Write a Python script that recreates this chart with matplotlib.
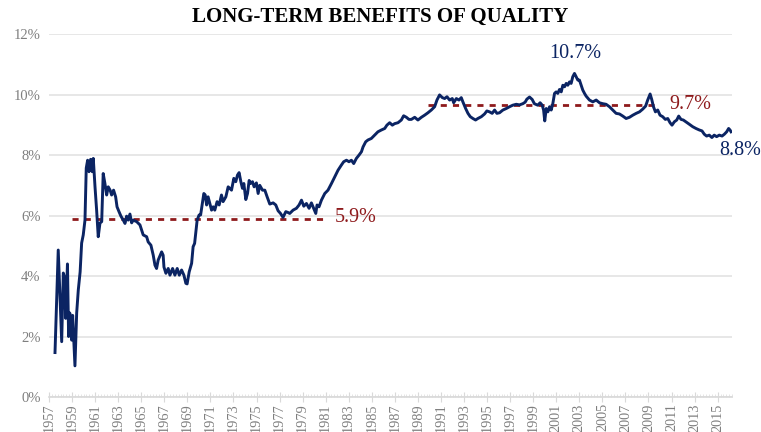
import numpy as np
import matplotlib
matplotlib.use("Agg")
import matplotlib.pyplot as plt
from matplotlib.ticker import FixedLocator, MultipleLocator, PercentFormatter

# return series (%)
years = [1957.52, 1957.80, 1958.10, 1958.24, 1958.32, 1958.45, 1958.60, 1958.70, 1958.80, 1958.97,
         1959.05, 1959.25, 1959.40, 1959.54, 1959.70, 1959.83, 1959.97, 1960.12, 1960.23, 1960.35,
         1960.47, 1960.61, 1960.75, 1960.84, 1960.99, 1961.13, 1961.27, 1961.42, 1961.57, 1961.70,
         1961.85, 1962.00, 1962.14, 1962.30, 1962.43, 1962.60, 1962.78, 1962.90, 1963.07, 1963.24,
         1963.44, 1963.59, 1963.73, 1963.87, 1964.02, 1964.17, 1964.30, 1964.60, 1964.89, 1965.17,
         1965.47, 1965.60, 1965.84, 1966.04, 1966.19, 1966.33, 1966.47, 1966.77, 1966.90, 1966.97,
         1967.14, 1967.34, 1967.49, 1967.72, 1967.92, 1968.12, 1968.30, 1968.50, 1968.70, 1968.87,
         1968.98, 1969.16, 1969.37, 1969.50, 1969.63, 1969.74, 1969.85, 1970.02, 1970.15, 1970.26,
         1970.43, 1970.55, 1970.67, 1970.80, 1970.95, 1971.10, 1971.24, 1971.38, 1971.58, 1971.76,
         1971.96, 1972.10, 1972.34, 1972.54, 1972.68, 1972.83, 1973.03, 1973.20, 1973.35, 1973.49,
         1973.64, 1973.78, 1973.90, 1974.07, 1974.22, 1974.36, 1974.48, 1974.65, 1974.79, 1974.99,
         1975.14, 1975.28, 1975.52, 1975.72, 1975.92, 1976.15, 1976.44, 1976.67, 1976.87, 1977.08,
         1977.30, 1977.54, 1977.74, 1977.88, 1978.17, 1978.46, 1978.69, 1978.90, 1979.10, 1979.33,
         1979.56, 1979.76, 1979.96, 1980.14, 1980.25, 1980.42, 1980.63, 1980.92, 1981.20, 1981.50,
         1981.78, 1982.07, 1982.36, 1982.56, 1982.80, 1983.02, 1983.23, 1983.43, 1983.66, 1983.89,
         1984.10, 1984.24, 1984.47, 1984.67, 1984.96, 1985.25, 1985.53, 1985.83, 1986.12, 1986.31,
         1986.55, 1986.78, 1986.98, 1987.27, 1987.56, 1987.76, 1988.00, 1988.22, 1988.43, 1988.72,
         1989.00, 1989.30, 1989.58, 1989.87, 1990.16, 1990.45, 1990.65, 1990.88, 1991.12, 1991.32,
         1991.52, 1991.75, 1991.98, 1992.10, 1992.33, 1992.56, 1992.76, 1992.90, 1993.14, 1993.34,
         1993.54, 1993.77, 1994.00, 1994.20, 1994.50, 1994.78, 1994.98, 1995.21, 1995.44, 1995.65,
         1995.85, 1996.08, 1996.37, 1996.66, 1996.95, 1997.23, 1997.53, 1997.81, 1998.10, 1998.30,
         1998.45, 1998.68, 1998.91, 1999.10, 1999.39, 1999.60, 1999.78, 1999.90, 2000.00, 2000.13,
         2000.27, 2000.42, 2000.56, 2000.70, 2000.85, 2000.99, 2001.13, 2001.28, 2001.43, 2001.57,
         2001.72, 2001.86, 2002.00, 2002.15, 2002.29, 2002.43, 2002.58, 2002.73, 2002.87, 2003.01,
         2003.16, 2003.30, 2003.45, 2003.59, 2003.88, 2004.17, 2004.46, 2004.75, 2005.03, 2005.32,
         2005.61, 2005.90, 2006.19, 2006.48, 2006.77, 2007.06, 2007.35, 2007.64, 2007.93, 2008.22,
         2008.50, 2008.75, 2008.93, 2009.14, 2009.28, 2009.43, 2009.60, 2009.80, 2010.00, 2010.23,
         2010.46, 2010.67, 2010.87, 2011.04, 2011.24, 2011.45, 2011.62, 2011.82, 2012.02, 2012.25,
         2012.54, 2012.83, 2013.12, 2013.41, 2013.64, 2013.84, 2014.04, 2014.27, 2014.50, 2014.70,
         2014.91, 2015.14, 2015.38, 2015.58, 2015.78, 2015.95, 2016.07, 2016.16]
values = [1.47, 4.86, 1.83, 4.10, 4.00, 2.60, 4.40, 2.00, 2.78, 1.88,
          2.70, 1.03, 2.78, 3.54, 4.14, 5.09, 5.36, 5.85, 7.57, 7.83,
          7.45, 7.86, 7.45, 7.89, 6.95, 6.18, 5.30, 5.75, 5.80, 7.39,
          7.06, 6.68, 6.95, 6.84, 6.68, 6.84, 6.62, 6.29, 6.13, 5.98,
          5.85, 5.74, 5.98, 5.85, 6.05, 5.76, 5.85, 5.80, 5.69, 5.36,
          5.30, 5.13, 5.02, 4.69, 4.36, 4.25, 4.53, 4.80, 4.69, 4.30,
          4.09, 4.25, 4.03, 4.25, 4.03, 4.25, 4.03, 4.20, 4.03, 3.76,
          3.74, 4.14, 4.42, 4.97, 5.08, 5.46, 5.85, 6.02, 6.02, 6.29,
          6.73, 6.68, 6.35, 6.62, 6.40, 6.18, 6.29, 6.18, 6.46, 6.35,
          6.68, 6.46, 6.62, 6.95, 6.90, 6.84, 7.23, 7.12, 7.34, 7.42,
          7.12, 6.90, 7.06, 6.53, 6.73, 7.16, 7.06, 7.12, 6.95, 7.08,
          6.73, 7.00, 6.84, 6.84, 6.62, 6.38, 6.42, 6.35, 6.16, 6.07,
          5.94, 6.13, 6.10, 6.07, 6.18, 6.24, 6.35, 6.51, 6.31, 6.40,
          6.24, 6.42, 6.24, 6.07, 6.35, 6.29, 6.51, 6.73, 6.84, 7.06,
          7.28, 7.50, 7.67, 7.78, 7.83, 7.78, 7.83, 7.72, 7.89, 8.00,
          8.11, 8.27, 8.44, 8.50, 8.55, 8.66, 8.77, 8.83, 8.88, 8.99,
          9.07, 8.99, 9.04, 9.07, 9.16, 9.30, 9.25, 9.18, 9.18, 9.25,
          9.16, 9.25, 9.32, 9.40, 9.49, 9.60, 9.82, 9.99, 9.90, 9.87,
          9.93, 9.82, 9.87, 9.73, 9.87, 9.82, 9.90, 9.76, 9.54, 9.38,
          9.27, 9.21, 9.16, 9.21, 9.27, 9.36, 9.46, 9.43, 9.38, 9.49,
          9.38, 9.40, 9.49, 9.54, 9.60, 9.65, 9.68, 9.66, 9.70, 9.75,
          9.85, 9.92, 9.84, 9.70, 9.65, 9.73, 9.65, 9.49, 9.13, 9.54,
          9.43, 9.60, 9.49, 9.70, 10.04, 10.09, 10.04, 10.17, 10.09, 10.31,
          10.26, 10.37, 10.31, 10.42, 10.37, 10.59, 10.70, 10.59, 10.48, 10.48,
          10.31, 10.15, 10.04, 9.95, 9.82, 9.76, 9.82, 9.73, 9.70, 9.68,
          9.60, 9.49, 9.38, 9.36, 9.29, 9.21, 9.25, 9.32, 9.38, 9.43,
          9.52, 9.62, 9.82, 10.02, 9.84, 9.60, 9.43, 9.49, 9.32, 9.27,
          9.18, 9.21, 9.07, 8.99, 9.10, 9.16, 9.29, 9.18, 9.16, 9.10,
          9.02, 8.94, 8.88, 8.83, 8.80, 8.69, 8.63, 8.66, 8.58, 8.66,
          8.61, 8.66, 8.63, 8.69, 8.77, 8.88, 8.83, 8.77]

# average levels (dashed)
avg_early = 5.9
avg_early_span = [1959.0, 1980.9]
avg_late = 9.65
avg_late_span = [1989.9, 2010.0]
tick_years = list(range(1957, 2016, 2))

navy = "#0B2463"
red = "#8E1A1C"
grey = "#7F7F7F"
serif = ["Liberation Serif", "DejaVu Serif"]

fig = plt.figure(figsize=(7.61, 4.32), dpi=100)
ax = fig.add_axes([0.0644, 0.081, 0.8976, 0.84])

ax.plot(years, values, color=navy, lw=2.1, zorder=3)
ax.plot(avg_early_span, [avg_early] * 2, color=red, lw=2, ls=(0, (2.2, 2.2)), zorder=2)
ax.plot(avg_late_span, [avg_late] * 2, color=red, lw=2, ls=(0, (2.2, 2.2)), zorder=2)

ax.text(1981.8, 5.92, "5.9%", color=red, fontsize=14.5, family=serif, va="center", ha="left")
ax.text(2010.8, 9.68, "9.7%", color=red, fontsize=14.5, family=serif, va="center", ha="left")
ax.text(2002.67, 11.37, "10.7%", color=navy, fontsize=14.5, family=serif, va="center", ha="center")
ax.text(2015.15, 8.15, "8.8%", color=navy, fontsize=14.5, family=serif, va="center", ha="left",
        clip_on=False)

ax.set_xlim(1957, 2016.25)
ax.set_ylim(0, 12)
ax.yaxis.set_major_locator(MultipleLocator(2))
ax.yaxis.set_major_formatter(PercentFormatter(decimals=0))
ax.xaxis.set_major_locator(FixedLocator(tick_years))
ax.xaxis.set_minor_locator(MultipleLocator(0.25))
ax.set_xticklabels([str(y) for y in tick_years], rotation=90)

ax.grid(axis="y", color="#E3E3E3", lw=1.2)
ax.set_axisbelow(True)
for s in ["top", "right", "left"]:
    ax.spines[s].set_visible(False)
ax.spines["bottom"].set_color("#D9D9D9")
ax.spines["bottom"].set_linewidth(1.2)

ax.tick_params(axis="y", length=0, pad=6, labelsize=10.5, labelcolor=grey)
ax.tick_params(axis="x", which="major", direction="inout", length=7, color="#D9D9D9",
               labelsize=10.3, labelcolor=grey, pad=1)
ax.tick_params(axis="x", which="minor", direction="in", length=2, color="#E0E0E0")
for lab in ax.get_xticklabels() + ax.get_yticklabels():
    lab.set_family(serif)

fig.suptitle("LONG-TERM BENEFITS OF QUALITY", x=0.5, y=0.985, fontsize=15,
             fontweight="bold", family=serif, va="top")

fig.savefig("out.png", dpi=100)
